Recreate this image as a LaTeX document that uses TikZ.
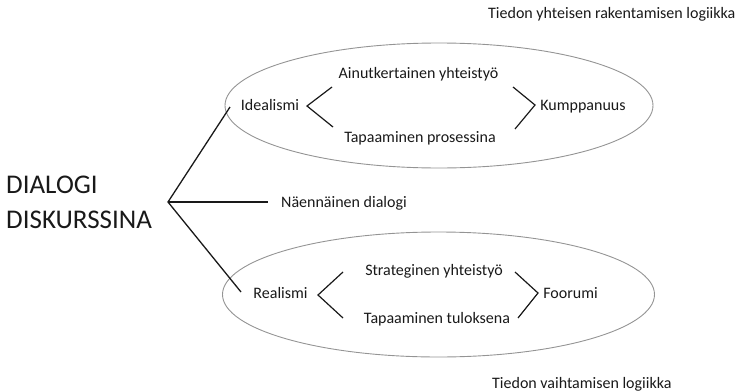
\documentclass[tikz,border=0pt]{standalone}
\usepackage{fontspec}
\setmainfont{Carlito}
\usetikzlibrary{shapes.geometric}
\begin{document}
\begin{tikzpicture}[x=1pt,y=-1pt,
  lbl/.style={anchor=base,inner sep=0pt,font=\fontsize{16}{19}\selectfont,text=black!90},
  ttl/.style={anchor=base west,inner sep=0pt,font=\fontsize{27}{32}\selectfont,text=black!90},
  ell/.style={draw=black!42,line width=0.9pt,ellipse,inner sep=0pt},
  brk/.style={draw=black!90,line width=1.2pt},
  branch/.style={draw=black!90,line width=1.3pt}]
\useasboundingbox (0,0) rectangle (752,391);
% ellipses
\node (topell) [ell,minimum width=428pt,minimum height=125pt] at (439,105.5) {};
\node (botell) [ell,minimum width=432pt,minimum height=125pt] at (438.5,294.5) {};
% labels
\node (toplab) [lbl,anchor=base west] at (488,18.5) {Tiedon yhteisen rakentamisen logiikka};
\node (botlab) [lbl,anchor=base west] at (492,388) {Tiedon vaihtamisen logiikka};
\node (t1) [ttl] at (6,193) {DIALOGI};
\node (t2) [ttl] at (6,228) {DISKURSSINA};
\node (nae) [lbl] at (344,207) {Näennäinen dialogi};
\node (ide) [lbl] at (270,110) {Idealismi};
\node (ain) [lbl] at (418.5,78) {Ainutkertainen yhteistyö};
\node (tpr) [lbl] at (420,142) {Tapaaminen prosessina};
\node (kum) [lbl] at (583,110) {Kumppanuus};
\node (rea) [lbl] at (280.5,298) {Realismi};
\node (str) [lbl] at (434,275) {Strateginen yhteistyö};
\node (ttu) [lbl] at (437,323) {Tapaaminen tuloksena};
\node (foo) [lbl] at (570.5,298) {Foorumi};
% branch
\coordinate (root) at (168,202);
\coordinate (ideEnd) at (230,107);
\coordinate (reaEnd) at (241,292);
\coordinate (naeEnd) at (268,202);
\draw[branch] (ideEnd) -- (root) -- (reaEnd);
\draw[branch] (root) -- (naeEnd);
% upper brackets
\coordinate (iv) at (307,106);
\coordinate (iu) at (332,87);
\coordinate (il) at (333,127);
\draw[brk] (iu) -- (iv) -- (il);
\coordinate (kv) at (535,105);
\coordinate (ku) at (513,87);
\coordinate (kl) at (515,129);
\draw[brk] (ku) -- (kv) -- (kl);
% lower brackets
\coordinate (rv) at (318,295);
\coordinate (ru) at (343,272);
\coordinate (rl) at (343,318);
\draw[brk] (ru) -- (rv) -- (rl);
\coordinate (fv) at (538,293);
\coordinate (fu) at (515,272);
\coordinate (fl) at (518,318);
\draw[brk] (fu) -- (fv) -- (fl);
\end{tikzpicture}
\end{document}
